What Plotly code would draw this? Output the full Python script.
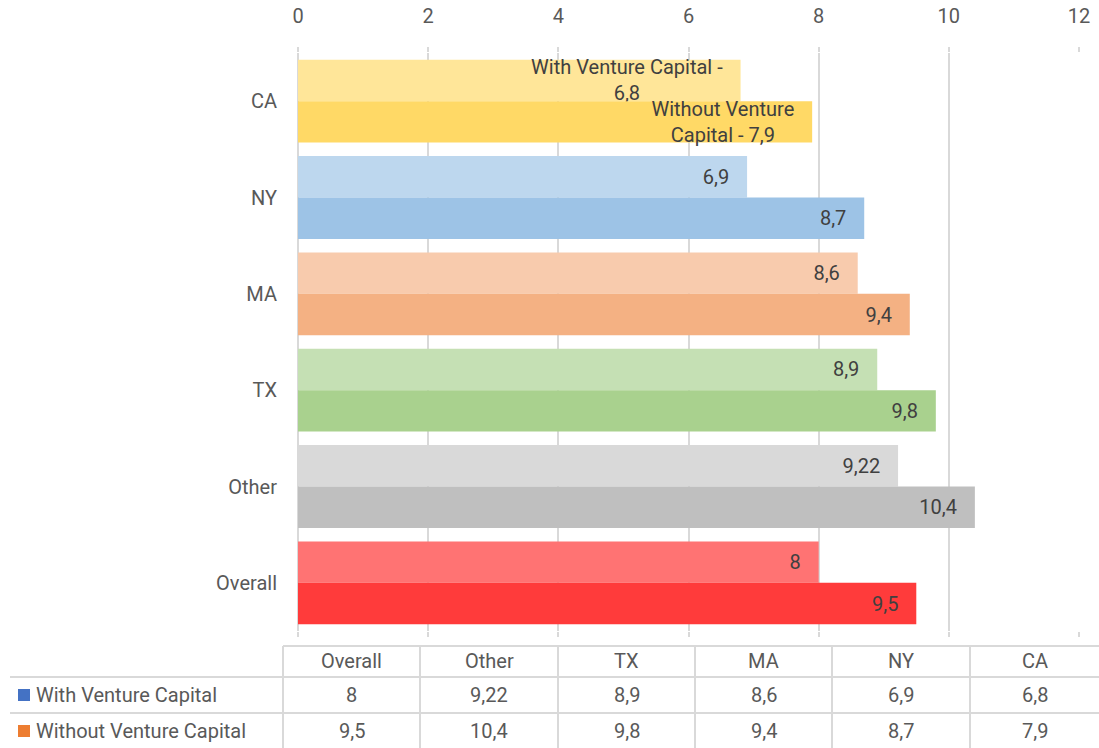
import plotly.graph_objects as go

categories = ["CA", "NY", "MA", "TX", "Other", "Overall"]
with_vc = [6.8, 6.9, 8.6, 8.9, 9.22, 8.0]
without_vc = [7.9, 8.7, 9.4, 9.8, 10.4, 9.5]
series_names = ["With Venture Capital", "Without Venture Capital"]
table_order = ["Overall", "Other", "TX", "MA", "NY", "CA"]
x_ticks = [0, 2, 4, 6, 8, 10, 12]

light_colors = ["#FFE699", "#BDD7EE", "#F8CBAD", "#C5E0B4", "#D9D9D9", "#FF7373"]
dark_colors = ["#FFD966", "#9DC3E6", "#F4B183", "#A9D18E", "#BFBFBF", "#FF3B3B"]
legend_colors = ["#4472C4", "#ED7D31"]

FONT = "Roboto, Noto Sans, sans-serif"
FS = 20
TXT = "#595959"
LBL = "#404040"
GRID = "#D9D9D9"
PAD = "\u00a0\u00a0\u00a0"


def fmt(v):
    return ("%g" % v).replace(".", ",")


def labels(vals, name):
    out = []
    for c, v in zip(categories, vals):
        if c == "CA":
            if name == "With Venture Capital":
                out.append("With Venture Capital -" + PAD + "<br>" + fmt(v) + PAD)
            else:
                out.append("Without Venture" + PAD + "<br>Capital - " + fmt(v) + PAD)
        else:
            out.append(fmt(v) + PAD)
    return out


fig = go.Figure()
for name, vals, cols in [(series_names[0], with_vc, light_colors),
                         (series_names[1], without_vc, dark_colors)]:
    fig.add_trace(go.Bar(
        y=categories, x=vals, orientation="h", name=name,
        marker=dict(color=cols, line=dict(width=0)),
        text=labels(vals, name), textposition="inside", insidetextanchor="end",
        constraintext="none",
        textfont=dict(family=FONT, size=FS, color=LBL),
        cliponaxis=False, hoverinfo="x+y",
    ))

W, H = 1099, 748
L, R, T, B = 298, 20, 53, 117
PW, PH = W - L - R, H - T - B


def px(x):
    return (x - L) / PW


def py(y):
    return (H - B - y) / PH


shapes = []
annotations = []
line = dict(color=GRID, width=2)
shapes.append(dict(type="line", xref="paper", yref="paper", x0=px(283), x1=px(1099), y0=py(646), y1=py(646), line=line))
for yy in [677, 713]:
    shapes.append(dict(type="line", xref="paper", yref="paper", x0=px(10), x1=px(1099), y0=py(yy), y1=py(yy), line=line))
col_edges = [283, 420, 558, 695, 832, 970, 1099]
for xx in col_edges[:-1]:
    shapes.append(dict(type="line", xref="paper", yref="paper", x0=px(xx), x1=px(xx), y0=py(646), y1=py(748), line=line))

row_y = [661, 695, 731]
table_vals = {series_names[0]: dict(zip(categories, with_vc)),
              series_names[1]: dict(zip(categories, without_vc))}
for i, cat in enumerate(table_order):
    cx = (col_edges[i] + col_edges[i + 1]) / 2
    annotations.append(dict(xref="paper", yref="paper", x=px(cx), y=py(row_y[0]), text=cat,
                            xanchor="center", yanchor="middle",
                            showarrow=False, font=dict(family=FONT, size=FS, color=TXT)))
    for j, nm in enumerate(series_names):
        annotations.append(dict(xref="paper", yref="paper", x=px(cx), y=py(row_y[j + 1]),
                                text=fmt(table_vals[nm][cat]), showarrow=False,
                                xanchor="center", yanchor="middle",
                                font=dict(family=FONT, size=FS, color=TXT)))
for j, nm in enumerate(series_names):
    shapes.append(dict(type="rect", xref="paper", yref="paper", x0=px(18), x1=px(30),
                       y0=py(row_y[j + 1] + 6), y1=py(row_y[j + 1] - 6),
                       fillcolor=legend_colors[j], line=dict(width=0)))
    annotations.append(dict(xref="paper", yref="paper", x=px(34), y=py(row_y[j + 1]), text=nm,
                            xanchor="left", yanchor="middle", showarrow=False,
                            font=dict(family=FONT, size=FS, color=TXT)))

fig.update_layout(
    width=W, height=H,
    margin=dict(l=L, r=R, t=T, b=B, autoexpand=False),
    paper_bgcolor="white", plot_bgcolor="white",
    barmode="group", bargap=0.14, bargroupgap=0,
    showlegend=False,
    font=dict(family=FONT, size=FS, color=TXT),
    shapes=shapes, annotations=annotations,
    xaxis=dict(side="top", range=[0, 12], tickvals=x_ticks, ticktext=[str(t) for t in x_ticks],
               showgrid=True, gridcolor=GRID, gridwidth=2, zeroline=True, zerolinecolor=GRID,
               zerolinewidth=2, showline=False, ticks="outside", ticklen=5, tickcolor=GRID,
               tickwidth=2, mirror="ticks", ticklabelstandoff=16,
               tickfont=dict(family=FONT, size=FS, color=TXT), fixedrange=True),
    yaxis=dict(categoryorder="array", categoryarray=categories, autorange="reversed",
               showgrid=False, showline=False, ticks="", ticklabelstandoff=20,
               tickfont=dict(family=FONT, size=FS, color=TXT), fixedrange=True),
)

fig.write_html("out.html", config={"displayModeBar": False},
               post_script="document.body.style.margin='0';document.body.style.overflow='hidden';")
